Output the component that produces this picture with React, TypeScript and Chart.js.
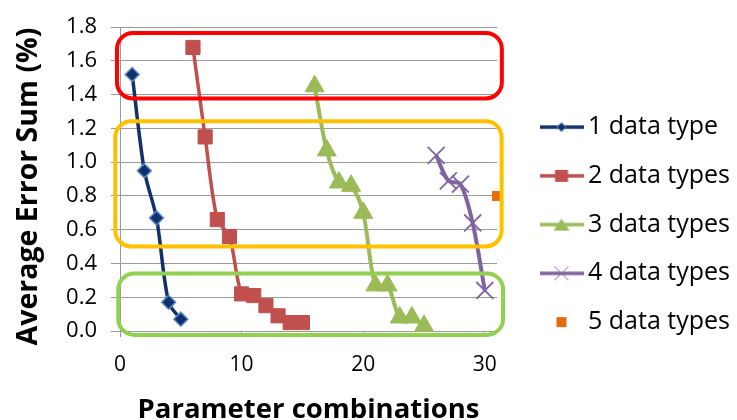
import React, { useEffect, useRef } from 'react';
import { Chart, registerables } from 'chart.js';

Chart.register(...registerables);

// ---- data ----
const seriesNames = ['1 data type', '2 data types', '3 data types', '4 data types', '5 data types'];

const s1X = [1, 2, 3, 4, 5];
const s1Y = [1.52, 0.95, 0.67, 0.17, 0.07];

const s2X = [6, 7, 8, 9, 10, 11, 12, 13, 14, 15];
const s2Y = [1.68, 1.15, 0.66, 0.56, 0.22, 0.21, 0.15, 0.09, 0.05, 0.05];

const s3X = [16, 17, 18, 19, 20, 21, 22, 23, 24, 25];
const s3Y = [1.45, 1.07, 0.88, 0.86, 0.70, 0.27, 0.27, 0.08, 0.08, 0.03];

const s4X = [26, 27, 28, 29, 30];
const s4Y = [1.04, 0.89, 0.87, 0.64, 0.24];

const s5X = [31];
const s5Y = [0.80];

const xTickValues = [0, 10, 20, 30];
const yTickValues = [0, 0.2, 0.4, 0.6, 0.8, 1.0, 1.2, 1.4, 1.6, 1.8];

const xTitle = 'Parameter combinations';
const yTitle = 'Average Error Sum (%)  ';

// highlighted ranges (data units): [xFrom, xTo, yFrom, yTo]
const redRange = [-0.25, 31.4, 1.378, 1.766];
const orangeRange = [-0.39, 31.38, 0.501, 1.243];
const greenRange = [-0.14, 31.5, -0.023, 0.341];

// ---- styles ----
const FONT = '"Open Sans", "Noto Sans", sans-serif';
const GRID = '#9a9a9a';
const BLUE_LINE = '#13306C';
const BLUE_FILL = '#102F6B';
const BLUE_EDGE = '#5B8AC9';
const RED = '#C0504D';
const GREEN = '#9BBB59';
const PURPLE = '#8064A2';
const ORANGE = '#E46C0A';

const rangeStyles = [
  { range: redRange, color: '#FF0000' },
  { range: orangeRange, color: '#FFC000' },
  { range: greenRange, color: '#92D050' },
];

function toPoints(xs: number[], ys: number[]) {
  return xs.map((x, i) => ({ x, y: ys[i] }));
}

function makeIcon(kind: string, line: string | null, fill: string, edge: string) {
  const c = document.createElement('canvas');
  c.width = 44;
  c.height = 20;
  const g = c.getContext('2d')!;
  const cx = 22, cy = 10;
  if (line) {
    g.strokeStyle = line;
    g.lineWidth = 3.5;
    g.beginPath();
    g.moveTo(0, cy);
    g.lineTo(44, cy);
    g.stroke();
  }
  g.fillStyle = fill;
  g.strokeStyle = edge;
  g.lineWidth = 1;
  g.beginPath();
  if (kind === 'diamond') {
    g.moveTo(cx - 4.5, cy); g.lineTo(cx, cy - 4.5); g.lineTo(cx + 4.5, cy); g.lineTo(cx, cy + 4.5); g.closePath();
    g.fill(); g.stroke();
  } else if (kind === 'square') {
    g.rect(cx - 6.5, cy - 6, 13, 12); g.fill();
  } else if (kind === 'small') {
    g.rect(cx - 5, cy - 5, 10, 10); g.fill();
  } else if (kind === 'triangle') {
    g.moveTo(cx, cy - 6); g.lineTo(cx + 8, cy + 6); g.lineTo(cx - 8, cy + 6); g.closePath(); g.fill();
  } else if (kind === 'cross') {
    g.strokeStyle = edge; g.lineWidth = 1;
    g.moveTo(cx - 7, cy - 7); g.lineTo(cx + 7, cy + 7);
    g.moveTo(cx + 7, cy - 7); g.lineTo(cx - 7, cy + 7);
    g.stroke();
  }
  return c;
}

const rangesPlugin = {
  id: 'ranges',
  afterDatasetsDraw(chart: any) {
    const { ctx, scales } = chart;
    const xs = scales.x, ys = scales.y;
    ctx.save();
    rangeStyles.forEach(({ range, color }) => {
      const l = xs.getPixelForValue(range[0]);
      const r = xs.getPixelForValue(range[1]);
      const b = ys.getPixelForValue(range[2]);
      const t = ys.getPixelForValue(range[3]);
      const rad = 16;
      ctx.beginPath();
      ctx.moveTo(l + rad, t);
      ctx.arcTo(r, t, r, b, rad);
      ctx.arcTo(r, b, l, b, rad);
      ctx.arcTo(l, b, l, t, rad);
      ctx.arcTo(l, t, r, t, rad);
      ctx.closePath();
      ctx.lineWidth = 4;
      ctx.strokeStyle = color;
      ctx.stroke();
    });
    ctx.restore();
  },
};

export default function App() {
  const ref = useRef<HTMLCanvasElement | null>(null);

  useEffect(() => {
    if (!ref.current) return;
    const icons = [
      makeIcon('diamond', BLUE_LINE, BLUE_FILL, BLUE_EDGE),
      makeIcon('square', RED, RED, RED),
      makeIcon('triangle', GREEN, GREEN, GREEN),
      makeIcon('cross', PURPLE, PURPLE, PURPLE),
      makeIcon('small', null, ORANGE, ORANGE),
    ];
    const xTickFont = { family: FONT, size: 21 };
    const yTickFont = { family: FONT, size: 22 };
    const xTitleFont = { family: FONT, size: 27.5, weight: 'bold' as const, lineHeight: 0.6 };
    const yTitleFont = { family: FONT, size: 28.5, weight: 'bold' as const, lineHeight: 0.6 };

    const chart = new Chart(ref.current, {
      type: 'scatter',
      data: {
        datasets: [
          {
            label: seriesNames[0], data: toPoints(s1X, s1Y), showLine: true, tension: 0.3,
            borderColor: BLUE_LINE, borderWidth: 3.5,
            pointStyle: 'rectRot', pointRadius: 7, pointBackgroundColor: BLUE_FILL,
            pointBorderColor: BLUE_EDGE, pointBorderWidth: 1.5, clip: false,
          },
          {
            label: seriesNames[1], data: toPoints(s2X, s2Y), showLine: true, tension: 0.3,
            borderColor: RED, borderWidth: 3.5,
            pointStyle: 'rect', pointRadius: 10, pointBackgroundColor: RED,
            pointBorderColor: RED, pointBorderWidth: 1, clip: false,
          },
          {
            label: seriesNames[2], data: toPoints(s3X, s3Y), showLine: true, tension: 0.3,
            borderColor: GREEN, borderWidth: 4,
            pointStyle: 'triangle', pointRadius: 11, pointBackgroundColor: GREEN,
            pointBorderColor: GREEN, pointBorderWidth: 1, clip: false,
          },
          {
            label: seriesNames[3], data: toPoints(s4X, s4Y), showLine: true, tension: 0.3,
            borderColor: PURPLE, borderWidth: 4,
            pointStyle: 'crossRot', pointRadius: 12, pointBackgroundColor: PURPLE,
            pointBorderColor: PURPLE, pointBorderWidth: 1.8, clip: false,
          },
          {
            label: seriesNames[4], data: toPoints(s5X, s5Y), showLine: false,
            borderColor: ORANGE,
            pointStyle: 'rect', pointRadius: 7, pointBackgroundColor: ORANGE,
            pointBorderColor: ORANGE, pointBorderWidth: 0, clip: false,
          },
        ],
      },
      options: {
        animation: false,
        responsive: false,
        devicePixelRatio: 1,
        layout: { padding: { top: 17.5, left: 0, right: 0, bottom: 0 } },
        plugins: {
          tooltip: { enabled: false },
          legend: {
            position: 'right',
            align: 'center',
            maxWidth: 213.25,
            title: { display: true, text: '', font: { size: 1, lineHeight: 1 }, padding: { top: 5.35, bottom: 5.35 } },
            labels: {
              usePointStyle: true,
              pointStyleWidth: 28,
              padding: 23.75,
              color: '#000',
              font: { family: FONT, size: 25 },
              generateLabels: (c: any) =>
                c.data.datasets.map((d: any, i: number) => ({
                  text: d.label,
                  pointStyle: icons[i],
                  fillStyle: 'rgba(0,0,0,0)',
                  strokeStyle: 'rgba(0,0,0,0)',
                  lineWidth: 0,
                  hidden: false,
                  datasetIndex: i,
                  fontColor: '#000',
                })),
            },
          },
        },
        scales: {
          x: {
            type: 'linear',
            min: 0,
            max: 31,
            afterBuildTicks: (s: any) => { s.ticks = xTickValues.map((v) => ({ value: v })); },
            afterFit: (s: any) => { s.height = 89; },
            grid: { drawOnChartArea: false, drawTicks: true, tickLength: 6, color: GRID },
            border: { color: GRID },
            ticks: { font: xTickFont, color: '#000', padding: 15, maxRotation: 0, callback: (v: any) => String(v) },
            title: { display: true, text: xTitle, color: '#000', font: xTitleFont, padding: { top: 0, bottom: 1.6 } },
          },
          y: {
            type: 'linear',
            min: 0,
            max: 1.8,
            afterBuildTicks: (s: any) => { s.ticks = yTickValues.map((v) => ({ value: v })); },
            afterFit: (s: any) => { s.width = 120; },
            grid: { color: GRID, tickLength: 9 },
            border: { color: GRID },
            ticks: { font: yTickFont, color: '#000', padding: 14, callback: (v: any) => Number(v).toFixed(1) },
            title: { display: true, text: yTitle, color: '#000', font: yTitleFont, padding: { top: 20.5, bottom: 0 } },
          },
          y2: {
            type: 'linear',
            position: 'right',
            display: true,
            grid: { display: false, drawTicks: false },
            border: { display: false },
            ticks: { display: false },
            afterFit: (s: any) => { s.width = 26.75; },
          },
        },
      },
      plugins: [rangesPlugin],
    } as any);

    return () => chart.destroy();
  }, []);

  return (
    <div style={{ position: 'absolute', left: 0, top: 0, width: 737, height: 420, background: '#fff' }}>
      <canvas ref={ref} width={737} height={420} style={{ width: 737, height: 420, display: 'block' }} />
    </div>
  );
}
